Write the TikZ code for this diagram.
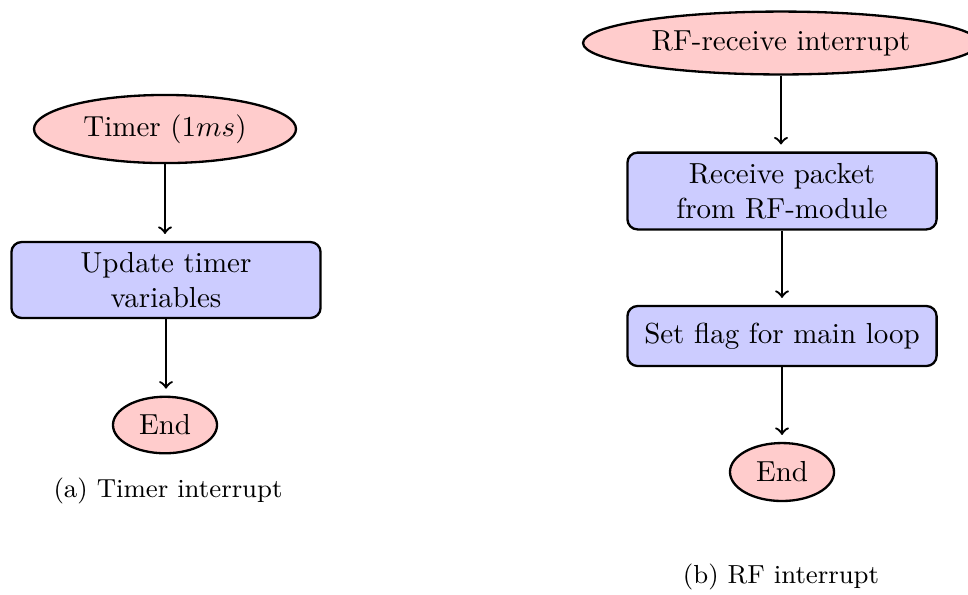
\documentclass[tikz,border=0pt]{standalone}
\usetikzlibrary{shapes.geometric}
\begin{document}
\begin{tikzpicture}[x=0.345pt, y=-0.345pt,
  every node/.style={font=\fontsize{10}{12}\selectfont},
  terminal/.style={ellipse, draw, line width=0.8pt, fill=red!20, inner sep=1pt},
  process/.style={rectangle, rounded corners=3.5pt, draw, line width=0.8pt, fill=blue!20,
    text width=100pt, align=center, inner sep=3.33pt},
  flow/.style={->, line width=0.8pt, shorten >=2.4pt},
  caption/.style={font=\fontsize{9}{11}\selectfont}]
  \useasboundingbox (0,0) rectangle (968,594);

  % (a) timer interrupt
  \node[terminal, minimum width=90.4pt, minimum height=23.5pt] (t0) at (165,129) {Timer ($1ms$)};
  \node[process, minimum height=26.2pt] (t1) at (166,280) {Update timer\\variables};
  \node[terminal, minimum width=35.9pt, minimum height=19.5pt] (t2) at (165,425) {End};
  \node[caption] (ca) at (168,491) {(a) Timer interrupt};
  \draw[flow] (t0) -- (t0 |- t1.north);
  \draw[flow] (t1) -- (t1 |- t2.north);

  % (b) RF-receive interrupt
  \node[terminal, minimum width=136.6pt, minimum height=21.7pt] (r0) at (781,43) {RF-receive interrupt};
  \node[process, minimum height=26.5pt] (r1) at (782,191) {Receive packet\\from RF-module};
  \node[process, minimum height=20.7pt] (r2) at (782,336) {Set flag for main loop};
  \node[terminal, minimum width=35.9pt, minimum height=20pt] (r3) at (782,472) {End};
  \node[caption] (cb) at (781,577) {(b) RF interrupt};
  \draw[flow] (r0) -- (r0 |- r1.north);
  \draw[flow] (r1) -- (r1 |- r2.north);
  \draw[flow] (r2) -- (r2 |- r3.north);
\end{tikzpicture}
\end{document}
